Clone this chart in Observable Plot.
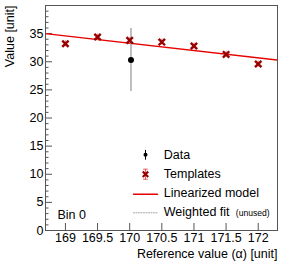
<!DOCTYPE html>
<html><head><meta charset="utf-8">
<script src="https://cdn.jsdelivr.net/npm/d3@7"></script>
<script src="https://cdn.jsdelivr.net/npm/@observablehq/plot@0.6"></script>
<style>html,body{margin:0;padding:0;background:#fff;overflow:hidden;} #chart{width:283px;height:274px;}</style>
</head><body><div id="chart"></div>
<script>
// ---- data ----
const templateX = [169, 169.5, 170, 170.5, 171, 171.5, 172];
const templateY = [33.2, 34.4, 33.8, 33.5, 32.8, 31.3, 29.6];
const templateErr = [0.55, 0.55, 0.55, 0.55, 0.55, 0.55, 0.55];
const dataX = [170.02];
const dataY = [30.3];
const dataErr = [5.6];
const modelX = [168.69, 172.3];
const modelY = [35.0, 30.3];
const xTicks = [169, 169.5, 170, 170.5, 171, 171.5, 172];
const yTicks = [0, 5, 10, 15, 20, 25, 30, 35];
const yMinorTicks = [1,2,3,4,6,7,8,9,11,12,13,14,16,17,18,19,21,22,23,24,26,27,28,29,31,32,33,34,36,37,38,39];
const legendLabels = ["Data", "Templates", "Linearized model", "Weighted fit"];
const legendNote = "(unused)";
const binLabel = "Bin 0";
const xTitle = "Reference value (\u03B1) [unit]";
const yTitle = "Value [unit]";

const templates = templateX.map((x, i) => ({x, y: templateY[i], e: templateErr[i]}));
const points = dataX.map((x, i) => ({x, y: dataY[i], e: dataErr[i]}));
const model = modelX.map((x, i) => ({x, y: modelY[i]}));

const FONT = "'Liberation Sans', Arial, Helvetica, sans-serif";
const frameCol = "#555";
const dark = "#990000";

const hline = {draw(ctx, l) { ctx.moveTo(0, 0); ctx.lineTo(l, 0); }};
const vbar = {draw(ctx, l) { ctx.moveTo(0, -l / 2); ctx.lineTo(0, l / 2); }};
const vbarCaps = {draw(ctx, l) {
  ctx.moveTo(0, -l / 2); ctx.lineTo(0, l / 2);
  ctx.moveTo(-2, -l / 2); ctx.lineTo(2, -l / 2);
  ctx.moveTo(-2, l / 2); ctx.lineTo(2, l / 2);
}};
const LA = {frameAnchor: "top-left"};

const chart = Plot.plot({
  width: 283, height: 274,
  marginTop: 5, marginRight: 6, marginBottom: 44, marginLeft: 45,
  style: {fontFamily: FONT, fontSize: "12px", color: "#000", background: "#fff"},
  x: {domain: [168.69, 172.3]},
  y: {domain: [0, 40]},
  marks: [
    // axes: ROOT-style inward ticks
    Plot.axisY({ticks: yMinorTicks, tickSize: -3.5, fill: "none", label: null, stroke: frameCol}),
    Plot.axisY({ticks: yTicks, tickSize: -7, fill: "none", label: null, stroke: frameCol}),
    Plot.axisY({ticks: yTicks, tickSize: 0, tickPadding: 2, label: null, fontSize: 12.5}),
    Plot.axisX({ticks: xTicks, tickSize: -7, fill: "none", label: null, stroke: frameCol}),
    Plot.axisX({ticks: xTicks, tickSize: 0, tickPadding: 3, label: null, fontSize: 12.5, tickFormat: d => String(d)}),
    // data
    Plot.line(model, {x: "x", y: "y", stroke: "#e60000", strokeWidth: 1.5, clip: true}),
    Plot.ruleX(points, {x: "x", y1: d => d.y - d.e, y2: d => d.y + d.e, stroke: "#aaa", strokeWidth: 1.5}),
    Plot.ruleX(templates, {x: "x", y1: d => d.y - d.e, y2: d => d.y + d.e, stroke: "#e89090", strokeWidth: 1}),
    Plot.dot(templates, {x: "x", y: "y", symbol: "times", r: 3, stroke: dark, strokeWidth: 2.4}),
    Plot.dot(points, {x: "x", y: "y", r: 3, fill: "#000"}),
    Plot.frame({stroke: frameCol}),
    // legend
    Plot.vector([0], {...LA, dx: 100, dy: 149.3, length: 9, anchor: "start", shape: vbar, stroke: "#000", strokeWidth: 1}),
    Plot.dot([0], {...LA, dx: 100, dy: 149.3, r: 2, fill: "#000"}),
    Plot.vector([0], {...LA, dx: 100, dy: 168.7, length: 10, anchor: "start", shape: vbarCaps, stroke: "#e06060", strokeWidth: 1}),
    Plot.dot([0], {...LA, dx: 100, dy: 168.7, symbol: "times", r: 2.6, stroke: dark, strokeWidth: 2.2}),
    Plot.vector([0], {...LA, dx: 88, dy: 188.7, length: 24, anchor: "start", shape: hline, stroke: "#e60000", strokeWidth: 1.5}),
    Plot.vector([0], {...LA, dx: 88, dy: 207.3, length: 24, anchor: "start", shape: hline, stroke: "#888", strokeWidth: 0.8, strokeDasharray: "1,1.5"}),
    Plot.text([legendLabels[0]], {...LA, text: d => d, dx: 118.3, dy: 149, textAnchor: "start", lineAnchor: "middle", fontSize: 12.5}),
    Plot.text([legendLabels[1]], {...LA, text: d => d, dx: 118.3, dy: 168.5, textAnchor: "start", lineAnchor: "middle", fontSize: 12.5}),
    Plot.text([legendLabels[2]], {...LA, text: d => d, dx: 118.3, dy: 187.5, textAnchor: "start", lineAnchor: "middle", fontSize: 12.5}),
    Plot.text([legendLabels[3]], {...LA, text: d => d, dx: 118.3, dy: 206.5, textAnchor: "start", lineAnchor: "middle", fontSize: 12.5}),
    Plot.text([legendNote], {...LA, text: d => d, dx: 190.3, dy: 207.5, textAnchor: "start", lineAnchor: "middle", fontSize: 8.6}),
    Plot.text([binLabel], {...LA, text: d => d, dx: 12, dy: 209.7, textAnchor: "start", lineAnchor: "middle", fontSize: 12.5}),
    // axis titles
    Plot.text([yTitle], {...LA, text: d => d, dx: -35.5, dy: 0, rotate: -90, textAnchor: "end", lineAnchor: "middle", fontSize: 12.5}),
    Plot.text([xTitle], {frameAnchor: "bottom-right", text: d => d, dx: 0, dy: 23, textAnchor: "end", lineAnchor: "middle", fontSize: 12.5})
  ]
});
document.getElementById("chart").appendChild(chart);
</script>
</body></html>
